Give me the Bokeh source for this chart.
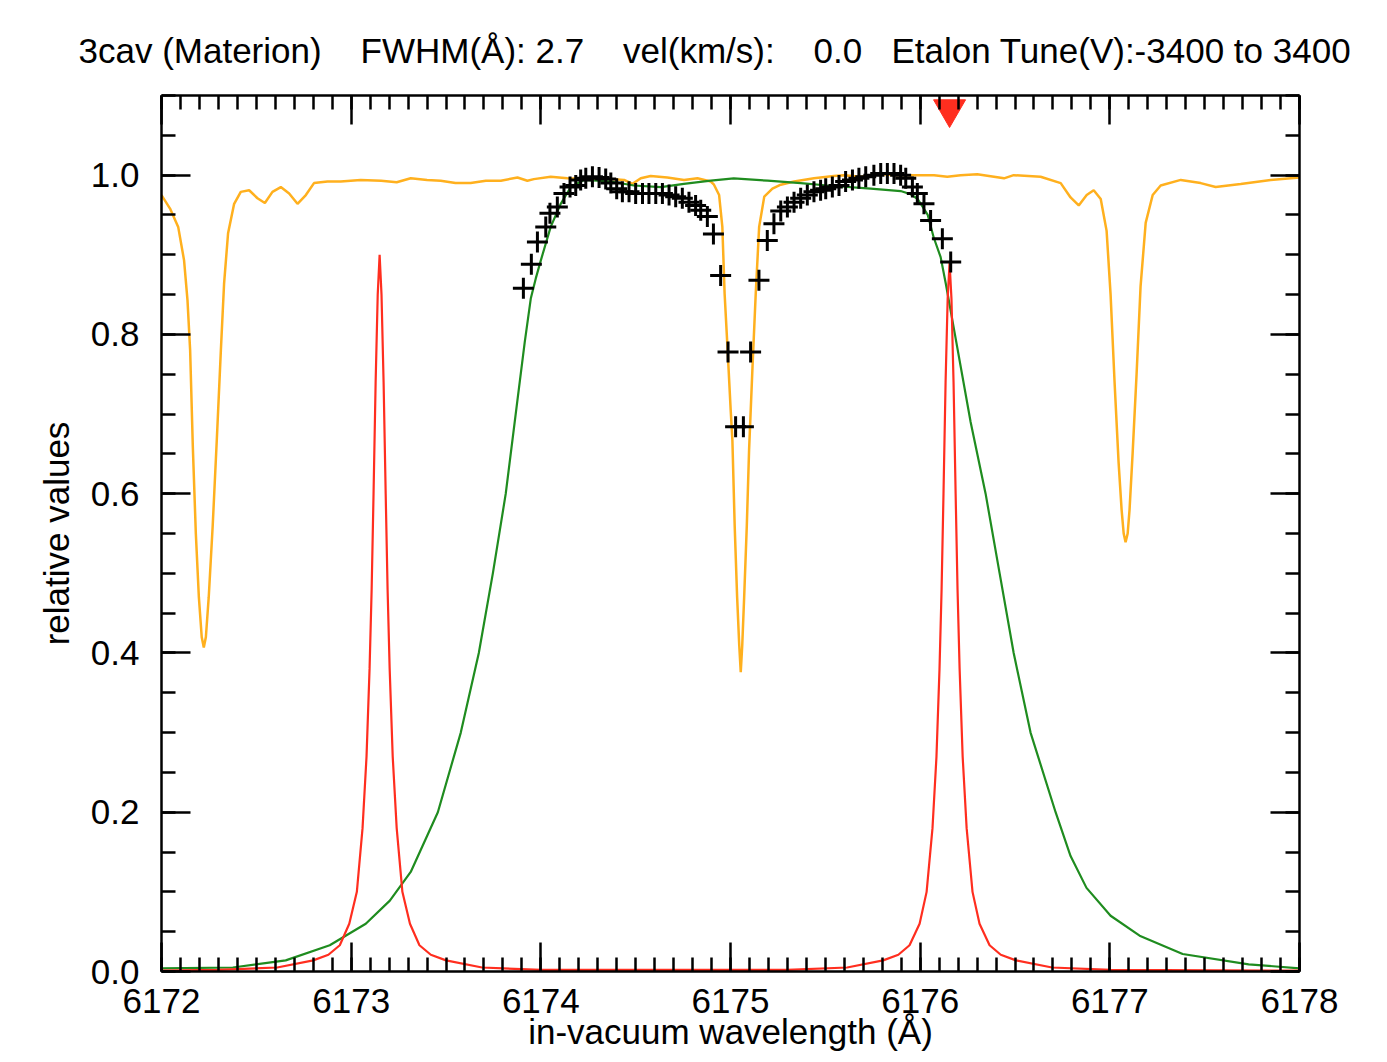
from bokeh.plotting import figure
from bokeh.models import (Range1d, LinearAxis, SingleIntervalTicker,
                          PrintfTickFormatter, CustomJSTickFormatter)
from bokeh.embed import file_html
from bokeh.resources import INLINE

FONT = "Liberation Sans"

# ---------------- data ----------------
orange_wl = [6172.000, 6172.045, 6172.088, 6172.119, 6172.137, 6172.151, 6172.165, 6172.181, 6172.197, 6172.212,
             6172.223, 6172.234, 6172.249, 6172.270, 6172.292, 6172.313, 6172.330, 6172.351, 6172.383, 6172.418,
             6172.462, 6172.506, 6172.545, 6172.585, 6172.629, 6172.673, 6172.717, 6172.761, 6172.804, 6172.875,
             6172.945, 6173.050, 6173.158, 6173.240, 6173.314, 6173.400, 6173.472, 6173.550, 6173.630, 6173.710,
             6173.789, 6173.877, 6173.929, 6173.963, 6174.052, 6174.140, 6174.263, 6174.368, 6174.439, 6174.483,
             6174.527, 6174.579, 6174.667, 6174.755, 6174.826, 6174.896, 6174.913, 6174.940, 6174.957, 6174.969,
             6174.984, 6175.001, 6175.010, 6175.022, 6175.035, 6175.046, 6175.054, 6175.062, 6175.072, 6175.086,
             6175.098, 6175.116, 6175.133, 6175.151, 6175.178, 6175.221, 6175.265, 6175.335, 6175.440, 6175.544,
             6175.598, 6175.686, 6175.792, 6175.880, 6175.967, 6176.073, 6176.143, 6176.213, 6176.301, 6176.442,
             6176.493, 6176.635, 6176.741, 6176.793, 6176.836, 6176.878, 6176.915, 6176.952, 6176.983, 6177.004,
             6177.025, 6177.046, 6177.062, 6177.073, 6177.083, 6177.094, 6177.104, 6177.120, 6177.141, 6177.162,
             6177.189, 6177.226, 6177.268, 6177.374, 6177.479, 6177.558, 6177.690, 6177.848, 6178.000]
orange_val = [0.975, 0.958, 0.935, 0.893, 0.843, 0.780, 0.660, 0.550, 0.470, 0.420,
              0.407, 0.420, 0.470, 0.560, 0.670, 0.780, 0.864, 0.927, 0.964, 0.979,
              0.981, 0.971, 0.965, 0.979, 0.985, 0.977, 0.964, 0.975, 0.990, 0.992,
              0.992, 0.994, 0.993, 0.991, 0.996, 0.994, 0.993, 0.990, 0.990, 0.993,
              0.993, 0.997, 0.993, 0.995, 0.998, 0.996, 0.995, 0.995, 0.994, 0.989,
              0.996, 0.999, 0.997, 0.994, 0.996, 0.992, 0.988, 0.975, 0.935, 0.851,
              0.784, 0.705, 0.667, 0.560, 0.470, 0.410, 0.376, 0.410, 0.470, 0.560,
              0.655, 0.759, 0.851, 0.935, 0.973, 0.983, 0.988, 0.992, 0.996, 0.999,
              1.000, 0.998, 1.001, 1.000, 1.000, 1.000, 0.998, 1.000, 1.001, 0.996,
              1.000, 0.998, 0.990, 0.972, 0.962, 0.975, 0.981, 0.970, 0.930, 0.850,
              0.740, 0.640, 0.580, 0.550, 0.539, 0.550, 0.580, 0.650, 0.750, 0.860,
              0.940, 0.975, 0.987, 0.994, 0.990, 0.985, 0.989, 0.994, 0.997]

green_wl = [6172.000, 6172.376, 6172.655, 6172.887, 6173.077, 6173.204, 6173.314, 6173.457, 6173.578, 6173.673,
            6173.747, 6173.815, 6173.878, 6173.915, 6173.947, 6173.973, 6174.000, 6174.052, 6174.105, 6174.158,
            6174.227, 6174.369, 6174.490, 6174.633, 6174.754, 6174.896, 6175.017, 6175.196, 6175.370, 6175.512,
            6175.739, 6175.897, 6175.950, 6175.987, 6176.040, 6176.071, 6176.108, 6176.135, 6176.187, 6176.266,
            6176.345, 6176.419, 6176.493, 6176.582, 6176.714, 6176.793, 6176.877, 6177.004, 6177.157, 6177.384,
            6177.732, 6178.000]
green_val = [0.004, 0.005, 0.014, 0.033, 0.060, 0.089, 0.125, 0.200, 0.300, 0.400,
             0.500, 0.600, 0.720, 0.790, 0.845, 0.870, 0.893, 0.935, 0.964, 0.985,
             0.994, 0.992, 0.987, 0.985, 0.989, 0.993, 0.996, 0.993, 0.990, 0.987,
             0.983, 0.980, 0.976, 0.970, 0.950, 0.922, 0.897, 0.864, 0.795, 0.690,
             0.600, 0.500, 0.400, 0.300, 0.200, 0.145, 0.105, 0.070, 0.045, 0.022,
             0.009, 0.004]

red_wl = [6172.000, 6172.300, 6172.610, 6172.800, 6172.880, 6172.940, 6172.990, 6173.030, 6173.060, 6173.081,
          6173.097, 6173.108, 6173.118, 6173.129, 6173.140, 6173.150, 6173.160, 6173.171, 6173.182, 6173.192,
          6173.203, 6173.219, 6173.240, 6173.270, 6173.310, 6173.360, 6173.420, 6173.500, 6173.690, 6174.000,
          6175.300, 6175.615, 6175.805, 6175.885, 6175.944, 6175.997, 6176.034, 6176.065, 6176.086, 6176.102,
          6176.113, 6176.123, 6176.134, 6176.145, 6176.155, 6176.165, 6176.176, 6176.187, 6176.197, 6176.208,
          6176.224, 6176.245, 6176.276, 6176.313, 6176.366, 6176.425, 6176.505, 6176.695, 6177.005, 6178.000]
red_val = [0.001, 0.002, 0.005, 0.014, 0.021, 0.033, 0.060, 0.100, 0.180, 0.270,
           0.380, 0.480, 0.600, 0.740, 0.850, 0.900, 0.850, 0.740, 0.600, 0.480,
           0.380, 0.270, 0.180, 0.100, 0.060, 0.033, 0.021, 0.014, 0.005, 0.002,
           0.002, 0.005, 0.014, 0.021, 0.033, 0.060, 0.100, 0.180, 0.270, 0.380,
           0.480, 0.600, 0.740, 0.845, 0.890, 0.845, 0.740, 0.600, 0.480, 0.380,
           0.270, 0.180, 0.100, 0.060, 0.033, 0.021, 0.014, 0.005, 0.002, 0.001]

cross_wl = [6173.908, 6173.950, 6173.982, 6174.026, 6174.048, 6174.087, 6174.122, 6174.154, 6174.184, 6174.210,
            6174.237, 6174.272, 6174.307, 6174.342, 6174.369, 6174.400, 6174.430, 6174.465, 6174.500, 6174.536,
            6174.570, 6174.606, 6174.641, 6174.676, 6174.711, 6174.746, 6174.781, 6174.816, 6174.843, 6174.878,
            6174.910, 6174.948, 6174.987, 6175.027, 6175.068, 6175.106, 6175.150, 6175.194, 6175.229, 6175.265,
            6175.300, 6175.335, 6175.370, 6175.405, 6175.440, 6175.475, 6175.502, 6175.537, 6175.572, 6175.607,
            6175.643, 6175.677, 6175.713, 6175.756, 6175.792, 6175.827, 6175.862, 6175.897, 6175.924, 6175.959,
            6175.985, 6176.020, 6176.055, 6176.117, 6176.161]
cross_val = [0.858, 0.888, 0.916, 0.935, 0.952, 0.960, 0.977, 0.985, 0.987, 0.994,
             0.996, 0.998, 0.997, 0.995, 0.990, 0.983, 0.979, 0.979, 0.977, 0.977,
             0.977, 0.977, 0.977, 0.975, 0.973, 0.971, 0.966, 0.962, 0.956, 0.948,
             0.926, 0.874, 0.778, 0.684, 0.684, 0.778, 0.868, 0.918, 0.939, 0.955,
             0.960, 0.966, 0.971, 0.975, 0.979, 0.981, 0.983, 0.985, 0.987, 0.992,
             0.994, 0.996, 0.998, 1.000, 1.002, 1.002, 1.002, 1.000, 0.996, 0.985,
             0.977, 0.964, 0.943, 0.920, 0.891]

tune_marker_wl = [6176.155]
tune_marker_y = [1.083]

GAP = "\u00a0" * 4
title_text = ("3cav (Materion)" + GAP + "FWHM(Å): 2.7" + GAP + "vel(km/s):" + GAP +
              "0.0" + "\u00a0" * 3 + "Etalon Tune(V):-3400 to 3400")
x_title = "in-vacuum wavelength (Å)"
y_title = "relative values"

# ---------------- figure ----------------
p = figure(width=1379, height=1054,
           x_range=Range1d(6172, 6178), y_range=Range1d(0, 1.1),
           output_backend="svg", toolbar_location=None,
           x_axis_location=None, y_axis_location=None,
           min_border_left=161, min_border_right=80,
           min_border_top=95, min_border_bottom=83)
p.grid.visible = False
p.outline_line_color = None
p.background_fill_color = "white"
p.border_fill_color = "white"

p.title.text = title_text
p.title.text_font = FONT
p.title.text_font_size = "35px"
p.title.text_font_style = "normal"
p.title.text_color = "black"
p.title.align = "left"
p.title.offset = -83
p.title.standoff = 51

blank = CustomJSTickFormatter(code="return ''")


def add_axis(loc, interval, nminor, fmt, standoff=0, show=True):
    ax = LinearAxis(ticker=SingleIntervalTicker(interval=interval, num_minor_ticks=nminor),
                    formatter=fmt)
    ax.major_tick_in = 29
    ax.major_tick_out = 0
    ax.minor_tick_in = 14
    ax.minor_tick_out = 0
    ax.axis_line_width = 2.5
    ax.major_tick_line_width = 2.5
    ax.minor_tick_line_width = 2.5
    ax.axis_line_color = "black"
    ax.major_tick_line_color = "black"
    ax.minor_tick_line_color = "black"
    ax.major_label_text_font = FONT
    ax.major_label_text_font_size = "35px" if show else "0px"
    ax.major_label_text_color = "black"
    ax.major_label_standoff = standoff
    p.add_layout(ax, loc)
    return ax


xb = add_axis("below", 1, 10, PrintfTickFormatter(format="%d"), standoff=17)
xb.axis_label = x_title
xb.axis_label_text_font = FONT
xb.axis_label_text_font_size = "35px"
xb.axis_label_text_font_style = "normal"
xb.axis_label_text_color = "black"
xb.axis_label_standoff = -4

add_axis("above", 1, 10, blank, standoff=0, show=False)

yl = add_axis("left", 0.2, 4, PrintfTickFormatter(format="%.1f"), standoff=22)
yl.axis_label = y_title
yl.axis_label_text_font = FONT
yl.axis_label_text_font_size = "35px"
yl.axis_label_text_font_style = "normal"
yl.axis_label_text_color = "black"
yl.axis_label_standoff = 12

add_axis("right", 0.2, 4, blank, standoff=0, show=False)

p.line(orange_wl, orange_val, line_color="#FFB01E", line_width=2.5)
p.line(green_wl, green_val, line_color="#1F8C1F", line_width=2.2)
p.line(red_wl, red_val, line_color="#FF2E1F", line_width=2.2)
p.scatter(cross_wl, cross_val, marker="cross", size=21, line_color="black", line_width=3)
p.scatter(tune_marker_wl, tune_marker_y, marker="inverted_triangle", size=32,
          fill_color="#FF2E1F", line_color="#FF2E1F")

open("out.html", "w").write(file_html(p, INLINE))
